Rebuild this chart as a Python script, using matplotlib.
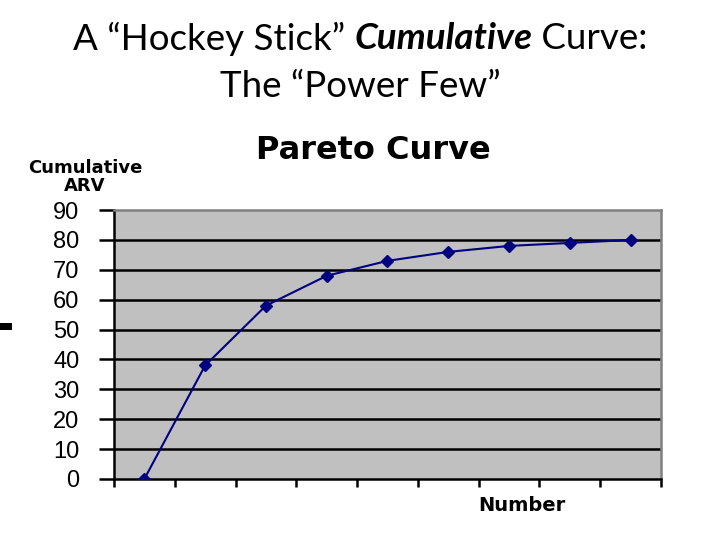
import numpy as np
import matplotlib
matplotlib.use('Agg')
import matplotlib.pyplot as plt

# data
numbers = [1, 2, 3, 4, 5, 6, 7, 8, 9]
cum_arv = [0, 38, 58, 68, 73, 76, 78, 79, 80]
y_ticks = list(range(0, 100, 10))

fig = plt.figure(figsize=(7.2, 5.4), dpi=100)
fig.patch.set_facecolor('white')

# slide title, first line built from three pieces so the middle word is bold italic
title_parts = [('A \u201cHockey Stick\u201d ', 'normal', 'normal'),
               ('Cumulative', 'bold', 'italic'),
               (' Curve:', 'normal', 'normal')]
renderer = fig.canvas.get_renderer()
pieces = []
for s, w, st in title_parts:
    t = fig.text(0, 0.928, s, ha='left', va='center', fontsize=26.5, family='Lato',
                 fontweight=w, fontstyle=st)
    pieces.append(t)
widths = [p.get_window_extent(renderer).width for p in pieces]
x0 = (720 - sum(widths)) / 2
for p, w in zip(pieces, widths):
    p.set_x(x0 / 720)
    x0 += w
fig.text(0.5, 0.84, 'The \u201cPower Few\u201d', ha='center', va='center',
         fontsize=26.5, family='Lato')

# little black mark on the left edge
fig.patches.append(plt.Rectangle((0, 0.389), 0.016, 0.013, transform=fig.transFigure,
                                 facecolor='black', edgecolor='none'))

ax = fig.add_axes([0.1583, 0.113, 0.7597, 0.498])
ax.set_facecolor('#C0C0C0')

# chart texts
fig.text(0.518, 0.722, 'Pareto Curve', ha='center', va='center',
         fontsize=23, fontweight='heavy', family='DejaVu Sans')
fig.text(0.118, 0.688, 'Cumulative', ha='center', va='center',
         fontsize=13, fontweight='heavy', family='DejaVu Sans')
fig.text(0.118, 0.656, 'ARV', ha='center', va='center',
         fontsize=13, fontweight='heavy', family='DejaVu Sans')
fig.text(0.725, 0.063, 'Number', ha='center', va='center',
         fontsize=14, fontweight='heavy', family='DejaVu Sans')

# gridlines
for v in y_ticks[1:-1]:
    ax.axhline(v, color='black', lw=1.8, zorder=1)

ax.plot(numbers, cum_arv, color='#000080', lw=1.5, marker='D', markersize=6,
        markerfacecolor='#000080', markeredgecolor='#000080', zorder=3)

ax.set_xlim(0.5, 9.5)
ax.set_ylim(0, 90)
ax.set_xticks(np.arange(0.5, 10, 1))
ax.set_xticklabels([])
ax.set_yticks(y_ticks)
ax.set_yticklabels([str(v) for v in y_ticks], fontsize=17, family='Liberation Sans',
                   fontweight='light')
ax.tick_params(axis='y', direction='out', length=11, width=1.8, pad=14, color='black')
ax.tick_params(axis='x', direction='out', length=6, width=1.8, color='black')

ax.spines['left'].set_color('black')
ax.spines['left'].set_linewidth(1.8)
ax.spines['bottom'].set_color('black')
ax.spines['bottom'].set_linewidth(1.8)
ax.spines['top'].set_color('#808080')
ax.spines['top'].set_linewidth(1.8)
ax.spines['right'].set_color('#808080')
ax.spines['right'].set_linewidth(1.8)

fig.savefig('out.png', dpi=100)
